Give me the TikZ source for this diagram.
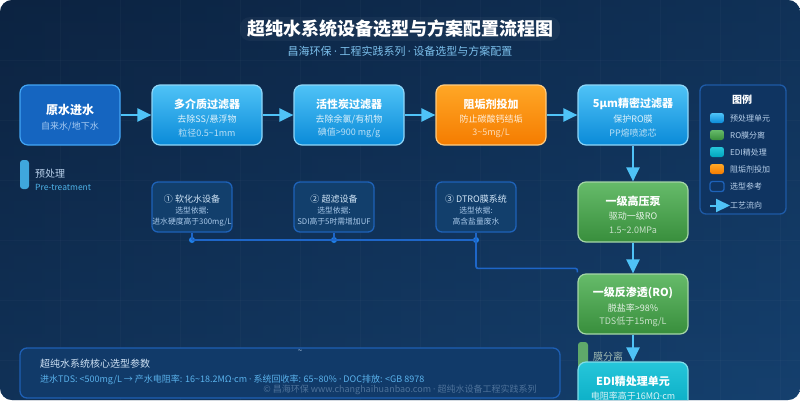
\documentclass[tikz,border=0pt]{standalone}
\usepackage{fontspec}
\setmainfont{Noto Sans CJK SC}
\newfontfamily\latinf{Noto Sans}
\newcommand{\mdot}{{\latinf ·}}
\usetikzlibrary{arrows.meta,calc}
\definecolor{bgA}{HTML}{0C2341}
\definecolor{bgB}{HTML}{15406E}
\definecolor{rawF}{HTML}{1565C0}
\definecolor{rawE}{HTML}{42A5F5}
\definecolor{rawS}{HTML}{A8CBF2}
\definecolor{lbA}{HTML}{4FC3F7}
\definecolor{lbB}{HTML}{0A8AD8}
\definecolor{lbE}{HTML}{8FD6F8}
\definecolor{orA}{HTML}{FFA726}
\definecolor{orB}{HTML}{F57C00}
\definecolor{orE}{HTML}{FFCC80}
\definecolor{grA}{HTML}{66BB6A}
\definecolor{grB}{HTML}{388E3C}
\definecolor{grE}{HTML}{A5D6A7}
\definecolor{tlA}{HTML}{26C6DA}
\definecolor{tlB}{HTML}{00A5BE}
\definecolor{tlE}{HTML}{80DEEA}
\definecolor{arrowc}{HTML}{4FC3F7}
\definecolor{selF}{HTML}{123F6C}
\definecolor{selE}{HTML}{1E62B8}
\definecolor{selT}{HTML}{D2E6F7}
\definecolor{selS}{HTML}{A9C9EA}
\definecolor{connc}{HTML}{1E66C8}
\definecolor{dotc}{HTML}{1E7FE8}
\definecolor{subc}{HTML}{7CC0EC}
\definecolor{legF}{HTML}{0F3461}
\definecolor{legE}{HTML}{1E5AA6}
\definecolor{legT}{HTML}{B8D0EA}
\definecolor{panF}{HTML}{113A69}
\definecolor{panE}{HTML}{1E5FB4}
\definecolor{panT}{HTML}{CFE2F5}
\definecolor{paramc}{HTML}{5AB2EC}
\definecolor{copyc}{HTML}{4E729A}
\definecolor{pretc}{HTML}{3FA7DD}
\definecolor{pretT}{HTML}{4FB3E8}
\definecolor{memc}{HTML}{5FA86A}
\definecolor{memT}{HTML}{9FB8B0}
\newcommand{\mkproc}[7]{%
  \node[#4] (#1) at (#2,#3) {};
  \node[ptitle] (#1-t) at ($(#1.center)+(0,-11)$) {#5};
  \node[pline] (#1-a) at ($(#1.center)+(0,4)$) {#6};
  \node[pline3] (#1-b) at ($(#1.center)+(0,18)$) {#7};
}
\newcommand{\mksel}[5]{%
  \node[selbox] (#1) at (#2,207) {};
  \node[seltitle] (#1-t) at ($(#1.center)+(0,-8)$) {#3};
  \node[selline] (#1-a) at ($(#1.center)+(0,4)$) {#4};
  \node[selline] (#1-b) at ($(#1.center)+(0,15)$) {#5};
}
\newcommand{\mkleg}[4]{%
  \node[legsw,#3] (#1-sw) at (717,#2) {};
  \node[legtext] (#1) at (730,#2) {#4};
}
\begin{document}
\begin{tikzpicture}[x=1pt,y=-1pt,
  proc/.style={rounded corners=8pt, minimum width=110pt, minimum height=60pt, inner sep=0pt, line width=1.2pt},
  rawproc/.style={proc, minimum width=100pt, fill=rawF, draw=rawE},
  blueproc/.style={proc, top color=lbA, bottom color=lbB, draw=lbE},
  orproc/.style={proc, top color=orA, bottom color=orB, draw=orE},
  grproc/.style={proc, top color=grA, bottom color=grB, draw=grE},
  tlproc/.style={proc, top color=tlA, bottom color=tlB, draw=tlE},
  ptitle/.style={inner sep=0pt, text=white, font=\fontsize{11}{13}\selectfont\bfseries},
  pline/.style={inner sep=0pt, text=white, text opacity=0.85, font=\fontsize{9}{11}\selectfont},
  pline3/.style={inner sep=0pt, text=white, text opacity=0.7, font=\fontsize{9}{11}\selectfont},
  selbox/.style={rounded corners=6pt, minimum width=80pt, minimum height=50pt, inner sep=0pt, fill=selF, draw=selE, line width=1.3pt},
  seltitle/.style={inner sep=0pt, text=selT, font=\fontsize{9}{11}\selectfont},
  selline/.style={inner sep=0pt, text=selS, font=\fontsize{7.8}{9}\selectfont},
  flow/.style={draw=arrowc, line width=2.2pt, -{Triangle[length=14pt,width=13pt]}},
  conn/.style={draw=connc, line width=1.6pt, rounded corners=2pt},
  dotn/.style={circle, fill=dotc, inner sep=0pt, minimum size=6pt},
  legsw/.style={rounded corners=2.5pt, minimum width=14pt, minimum height=10pt, inner sep=0pt},
  legtext/.style={anchor=west, inner sep=0pt, text=legT, font=\fontsize{8}{10}\selectfont},
]
\useasboundingbox (0,0) rectangle (800,400);
\begin{scope}
\clip[rounded corners=12pt] (0,0) rectangle (800,400);
\shade[left color=bgA, right color=bgB] (0,0) rectangle (800,400);
\shade[top color=bgA, bottom color=bgB, opacity=0.5] (0,0) rectangle (800,400);
\foreach \gx in {60,120,...,780} \draw[white, opacity=0.025, line width=0.8pt] (\gx,0) -- (\gx,400);
\foreach \gy in {60,120,...,360} \draw[white, opacity=0.025, line width=0.8pt] (0,\gy) -- (800,\gy);

% title
\fill[white, opacity=0.04, rounded corners=10pt] (240,17) rectangle (560,41);
\node[inner sep=0pt, text=white, font=\fontsize{18}{22}\selectfont\bfseries] (title) at (400,29) {超纯水系统设备选型与方案配置流程图};
\node[inner sep=0pt, text=subc, font=\fontsize{11}{13}\selectfont] (subtitle) at (400,51) {昌海环保 \mdot{} 工程实践系列 \mdot{} 设备选型与方案配置};

% process nodes
\node[rawproc] (raw) at (70,115) {};
\node[inner sep=0pt, text=white, font=\fontsize{12}{14}\selectfont\bfseries] (raw-t) at ($(raw.center)+(0,-5)$) {原水进水};
\node[inner sep=0pt, text=rawS, font=\fontsize{9}{11}\selectfont] (raw-a) at ($(raw.center)+(0,12)$) {自来水/地下水};
\mkproc{mm}{207}{115}{blueproc}{多介质过滤器}{去除SS/悬浮物}{粒径0.5\textasciitilde 1mm}
\mkproc{ac}{349}{115}{blueproc}{活性炭过滤器}{去除余氯/有机物}{碘值>900 mg/g}
\mkproc{sc}{491}{115}{orproc}{阻垢剂投加}{防止碳酸钙结垢}{3\textasciitilde 5mg/L}
\mkproc{pf}{633}{115}{blueproc}{5μm精密过滤器}{保护RO膜}{PP熔喷滤芯}
\mkproc{hp}{633}{212}{grproc}{一级高压泵}{驱动一级RO}{1.5\textasciitilde 2.0MPa}
\mkproc{ro}{633}{304}{grproc}{一级反渗透(RO)}{脱盐率>98\%}{TDS低于15mg/L}

% flow arrows
\draw[flow] (raw.east) -- (mm.west);
\draw[flow] (mm.east) -- (ac.west);
\draw[flow] (ac.east) -- (sc.west);
\draw[flow] (sc.east) -- (pf.west);
\draw[flow] (pf.south) -- (hp.north);
\draw[flow] (hp.south) -- (ro.north);

% pre-treatment tag
\fill[pretc, rounded corners=3pt] (20,160) rectangle (29,189);
\node[anchor=west, inner sep=0pt, text=legT, font=\fontsize{10}{12}\selectfont] (pret) at (35,174) {预处理};
\node[anchor=west, inner sep=0pt, text=pretT, font=\fontsize{8.5}{10}\selectfont] (pret-en) at (35,187.5) {Pre-treatment};

% selection boxes
\mksel{s1}{192}{① 软化水设备}{选型依据:}{进水硬度高于300mg/L}
\mksel{s2}{334}{② 超滤设备}{选型依据:}{SDI高于5时需增加UF}
\mksel{s3}{476}{③ DTRO膜系统}{选型依据:}{高含盐量废水}
\node[dotn] (d1) at (192,240) {};
\node[dotn] (d2) at (334,240) {};
\node[dotn] (d3) at (476,240) {};
\draw[conn] (s1.south) -- (d1.center);
\draw[conn] (s2.south) -- (d2.center);
\draw[conn] (s3.south) -- (d3.center);
\draw[conn] (d1.center) -- (d3.center);
\coordinate (roin) at ($(ro.north west)+(0,-1)$);
\draw[conn] (d3.center) |- ($(roin)+(0,-4)$) -- (roin);

% legend
\node[draw=legE, fill=legF, line width=1.3pt, rounded corners=6pt, minimum width=86pt, minimum height=129pt, inner sep=0pt] (legend) at (743,149.5) {};
\node[inner sep=0pt, text=white, font=\fontsize{10}{12}\selectfont\bfseries] (leg-t) at (742,99.5) {图例};
\mkleg{lg1}{118}{top color=lbA, bottom color=lbB}{预处理单元}
\mkleg{lg2}{135}{top color=grA, bottom color=grB}{RO膜分离}
\mkleg{lg3}{152}{top color=tlA, bottom color=tlB}{EDI精处理}
\mkleg{lg4}{169}{top color=orA, bottom color=orB}{阻垢剂投加}
\mkleg{lg5}{186.5}{draw=selE, line width=1.3pt}{选型参考}
\node[legtext] (lg6) at (730,205.5) {工艺流向};
\coordinate (lga) at (710,205.5);
\draw[flow, line width=2pt] (lga) -- (lg6.west);

% bottom panel
\node[draw=panE, fill=panF, line width=1.3pt, rounded corners=7pt, minimum width=540pt, minimum height=50pt, inner sep=0pt] (panel) at (290,373) {};
\node[inner sep=0pt, text=legT, font=\fontsize{8}{10}\selectfont] (tilde) at (300,352) {\textasciitilde};
\node[anchor=west, inner sep=0pt, text=panT, font=\fontsize{10}{12}\selectfont] (pan-t) at (40,364) {超纯水系统核心选型参数};
\node[anchor=west, inner sep=0pt, text=paramc, font=\fontsize{9}{11}\selectfont] (pan-a) at (40,380) {进水TDS: <500mg/L → 产水电阻率: 16\textasciitilde 18.2MΩ\mdot{}cm \mdot{} 系统回收率: 65\textasciitilde 80\% \mdot{} DOC排放: <GB 8978};
\node[inner sep=0pt, text=copyc, font=\fontsize{9}{11}\selectfont] (copy) at (400,390) {© 昌海环保 www.changhaihuanbao.com \mdot{} 超纯水设备工程实践系列};

% membrane separation tag
\fill[memc, rounded corners=3pt] (578,342) rectangle (588,380);
\node[anchor=west, inner sep=0pt, text=memT, font=\fontsize{10}{12}\selectfont] (mem) at (593,357) {膜分离};

% EDI
\node[proc, top color=tlA, bottom color=tlB, draw=tlE] (edi) at (633,392) {};
\node[ptitle] (edi-t) at (633,381) {EDI精处理单元};
\node[pline] (edi-a) at (633,396.5) {电阻率高于16MΩ\mdot{}cm};
\draw[flow] (ro.south) -- (edi.north);
\end{scope}
\end{tikzpicture}
\end{document}
